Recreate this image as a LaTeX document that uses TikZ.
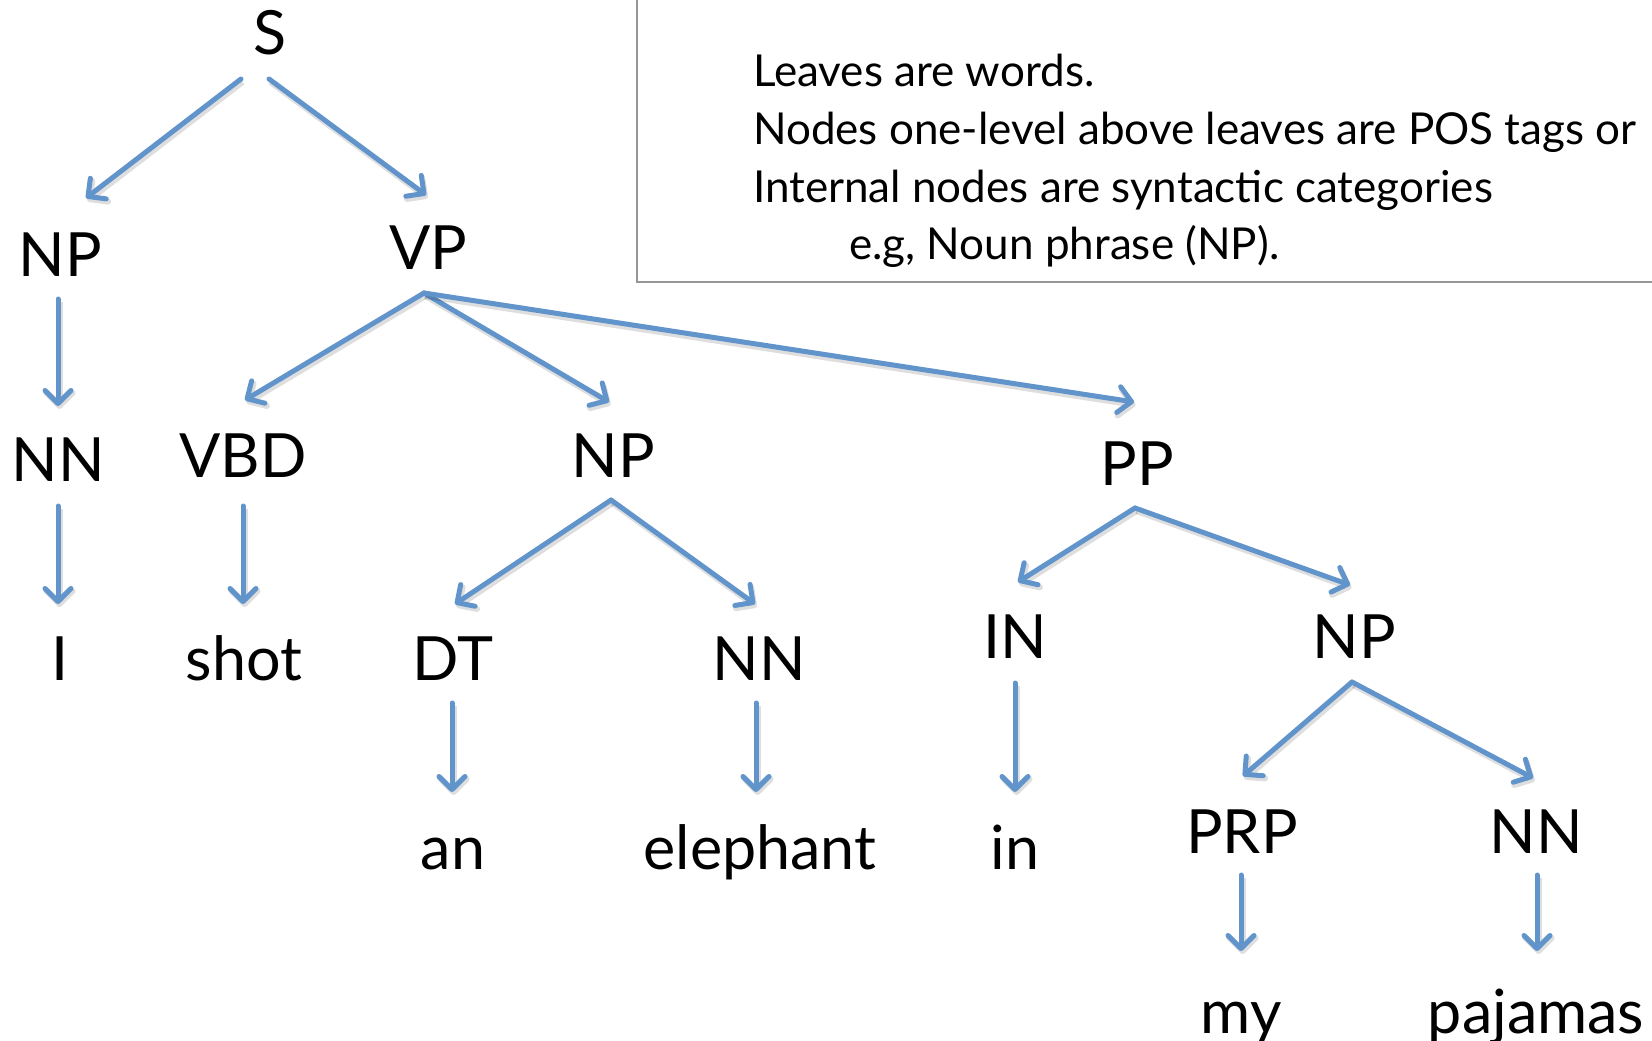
\documentclass[tikz,border=0pt]{standalone}
\usepackage{fontspec}
\setmainfont{Lato}
\usetikzlibrary{arrows.meta}
\definecolor{edgeblue}{RGB}{97,148,203}
\definecolor{boxgray}{RGB}{150,150,150}
\begin{document}
\begin{tikzpicture}[x=1pt,y=-1pt,
  lbl/.style={anchor=base, inner sep=0pt, font=\fontsize{61}{70}\selectfont},
  note/.style={anchor=base west, inner sep=0pt, font=\fontsize{44}{52}\selectfont},
  edge/.style={draw=edgeblue, line width=5pt, line cap=round,
    -{Straight Barb[length=13pt,width=26pt,line cap=round,line join=round]},
    preaction={draw=black, opacity=0.13, line width=6pt,
      transform canvas={shift={(1.5pt,-3pt)}}}},
]
\useasboundingbox (0,0) rectangle (1652,1041);

% explanation box, open at the top and right
\begin{scope}
  \clip (0,0) rectangle (1652,1041);
  \draw[boxgray, line width=1.5pt] (637,-20) rectangle (1680,282);
\end{scope}
\node[note] (n1) at (753,87)  {Leaves are words.};
\node[note] (n2) at (753,144) {Nodes one-level above leaves are POS tags or};
\node[note] (n3) at (753,202) {Internal nodes are syntactic categories};
\node[note] (n4) at (849,259) {e.g, Noun phrase (NP).};

% tree labels
\node[lbl] (S)    at (270,55)   {S};
\node[lbl] (NPa)  at (60,276)   {NP};
\node[lbl] (VP)   at (428,269)  {VP};
\node[lbl] (NNa)  at (58,481)   {NN};
\node[lbl] (VBD)  at (243,477)  {VBD};
\node[lbl] (NPb)  at (613,477)  {NP};
\node[lbl] (PP)   at (1137,485) {PP};
\node[lbl] (I)    at (60,680)   {I};
\node[lbl] (shot) at (244,680)  {shot};
\node[lbl] (DT)   at (453,680)  {DT};
\node[lbl] (NNb)  at (759,680)  {NN};
\node[lbl] (IN)   at (1015,658) {IN};
\node[lbl] (NPc)  at (1354,658) {NP};
\node[lbl] (an)   at (453,869)  {an};
\node[lbl] (eleph) at (760,869) {elephant};
\node[lbl] (in)   at (1015,869) {in};
\node[lbl] (PRP)  at (1242,853) {PRP};
\node[lbl] (NNc)  at (1536,853) {NN};
\node[lbl] (my)   at (1241,1033) {my};
\node[lbl] (paj)  at (1536,1033) {pajamas};

% connectors
\draw[edge] ([shift={(-29,24)}]S.base)   -- ([shift={(26,-78)}]NPa.base);
\draw[edge] ([shift={(-1,24)}]S.base)    -- ([shift={(-2,-74)}]VP.base);
\draw[edge] ([shift={(-2,23)}]NPa.base)  -- ([shift={(0,-75)}]NNa.base);
\draw[edge] ([shift={(-4,24)}]VP.base)   -- ([shift={(2,-77)}]VBD.base);
\draw[edge] ([shift={(-4,24)}]VP.base)   -- ([shift={(-4,-75)}]NPb.base);
\draw[edge] ([shift={(-4,24)}]VP.base)   -- ([shift={(-3,-83)}]PP.base);
\draw[edge] ([shift={(0,25)}]NNa.base)   -- ([shift={(-2,-76)}]I.base);
\draw[edge] ([shift={(0,29)}]VBD.base)   -- ([shift={(-1,-76)}]shot.base);
\draw[edge] ([shift={(-2,23)}]NPb.base)  -- ([shift={(2,-76)}]DT.base);
\draw[edge] ([shift={(-2,23)}]NPb.base)  -- ([shift={(-4,-76)}]NNb.base);
\draw[edge] ([shift={(-2,23)}]PP.base)   -- ([shift={(3,-76)}]IN.base);
\draw[edge] ([shift={(-2,23)}]PP.base)   -- ([shift={(-4,-73)}]NPc.base);
\draw[edge] ([shift={(-1,23)}]DT.base)   -- ([shift={(-1,-77)}]an.base);
\draw[edge] ([shift={(-3,23)}]NNb.base)  -- ([shift={(-4,-77)}]eleph.base);
\draw[edge] ([shift={(0,25)}]IN.base)    -- ([shift={(0,-77)}]in.base);
\draw[edge] ([shift={(-2,24)}]NPc.base)  -- ([shift={(1,-77)}]PRP.base);
\draw[edge] ([shift={(-2,24)}]NPc.base)  -- ([shift={(-3,-75)}]NNc.base);
\draw[edge] ([shift={(-1,22)}]PRP.base)  -- ([shift={(0,-82)}]my.base);
\draw[edge] ([shift={(1,22)}]NNc.base)   -- ([shift={(1,-82)}]paj.base);
\end{tikzpicture}
\end{document}
